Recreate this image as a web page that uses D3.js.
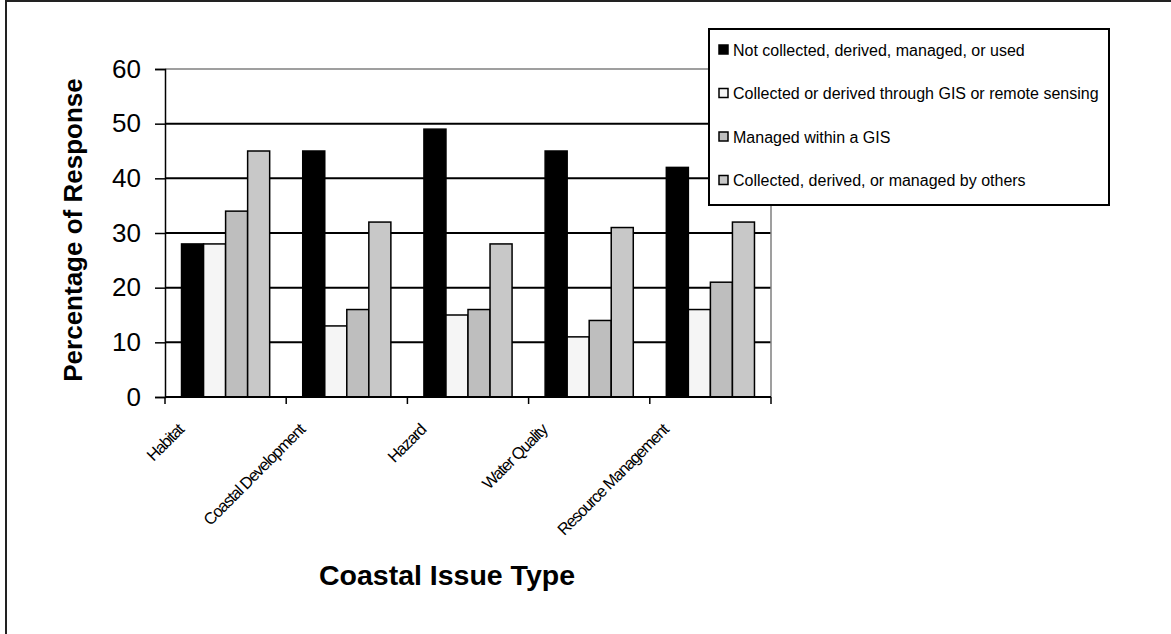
<!DOCTYPE html>
<html>
<head>
<meta charset="utf-8">
<script src="https://cdn.jsdelivr.net/npm/d3@7"></script>
<style>
  html, body { margin: 0; padding: 0; background: #fff; }
  svg { display: block; font-family: Arial, "Liberation Sans", sans-serif; }
</style>
</head>
<body>
<svg id="chart" width="1171" height="634"></svg>
<script>
// Survey results: share of respondents per coastal issue and data-handling status
const categories = ["Habitat", "Coastal Development", "Hazard", "Water Quality", "Resource Management"];
const seriesNames = [
  "Not collected, derived, managed, or used",
  "Collected or derived through GIS or remote sensing",
  "Managed within a GIS",
  "Collected, derived, or managed by others"
];
const notCollected   = [28, 45, 49, 45, 42];
const collectedGIS   = [28, 13, 15, 11, 16];
const managedGIS     = [34, 16, 16, 14, 21];
const byOthers       = [45, 32, 28, 31, 32];
const seriesValues = [notCollected, collectedGIS, managedGIS, byOthers];
const seriesColors = ["#000000", "#f5f5f5", "#bebebe", "#c8c8c8"];
const yTicks = [0, 10, 20, 30, 40, 50, 60];

const svg = d3.select("#chart");
const plot = { left: 165, right: 771, top: 69, bottom: 397 };

// outer frame (top and left edges fall inside the view)
svg.append("path")
  .attr("d", "M6,700V1H1200")
  .attr("fill", "none").attr("stroke", "#222").attr("stroke-width", 2);

const x0 = d3.scaleBand().domain(categories).range([plot.left, plot.right]).paddingInner(0).paddingOuter(0);
const x1 = d3.scaleBand().domain(d3.range(seriesNames.length))
  .range([0, x0.bandwidth()]).paddingInner(0).paddingOuter(0.75);
const y = d3.scaleLinear().domain([0, 60]).range([plot.bottom, plot.top]);

// gridlines
svg.append("g").selectAll("line")
  .data(yTicks.filter(t => t > 0 && t < 60))
  .join("line")
  .attr("x1", plot.left).attr("x2", plot.right)
  .attr("y1", d => y(d)).attr("y2", d => y(d))
  .attr("stroke", "#000").attr("stroke-width", 2);

// plot area border (top and right)
svg.append("path")
  .attr("d", `M${plot.left},${y(60)}H${plot.right}V${plot.bottom}`)
  .attr("fill", "none").attr("stroke", "#808080").attr("stroke-width", 1.5);

// bars
const groups = svg.append("g").selectAll("g")
  .data(categories)
  .join("g")
  .attr("transform", d => `translate(${x0(d)},0)`);

groups.selectAll("rect")
  .data((c, ci) => seriesValues.map((vals, si) => ({ si, v: vals[ci] })))
  .join("rect")
  .attr("x", d => x1(d.si))
  .attr("width", x1.bandwidth())
  .attr("y", d => y(d.v))
  .attr("height", d => y(0) - y(d.v))
  .attr("fill", d => seriesColors[d.si])
  .attr("stroke", "#000").attr("stroke-width", 1.5);

// y axis
const yAxis = svg.append("g")
  .attr("transform", `translate(${plot.left},0)`)
  .call(d3.axisLeft(y).tickValues(yTicks).tickSize(10).tickPadding(14).tickFormat(d3.format("d")));
yAxis.select(".domain").attr("stroke", "#000").attr("stroke-width", 1.5);
yAxis.selectAll(".tick line").attr("stroke", "#000").attr("stroke-width", 1.5);
yAxis.selectAll(".tick text").attr("font-size", 26).attr("fill", "#000")
  .attr("font-family", "Arial, 'Liberation Sans', sans-serif");

// x axis baseline and category boundary ticks
svg.append("line")
  .attr("x1", plot.left).attr("x2", plot.right)
  .attr("y1", y(0)).attr("y2", y(0))
  .attr("stroke", "#000").attr("stroke-width", 2);
const boundaries = categories.map(c => x0(c)).concat([plot.right]);
svg.append("g").selectAll("line")
  .data(boundaries)
  .join("line")
  .attr("x1", d => d).attr("x2", d => d)
  .attr("y1", y(0)).attr("y2", y(0) + 7)
  .attr("stroke", "#000").attr("stroke-width", 1.5);

// rotated category labels (condensed)
svg.append("g").selectAll("text")
  .data(categories)
  .join("text")
  .attr("transform", d => `translate(${x0(d) + x0.bandwidth() / 2 - 41},${plot.bottom + 34}) rotate(-45)`)
  .attr("text-anchor", "end")
  .attr("font-size", 16.5)
  .attr("letter-spacing", -1.2)
  .attr("fill", "#000")
  .text(d => d);

// axis titles
svg.append("text")
  .attr("transform", `translate(82,230) rotate(-90)`)
  .attr("text-anchor", "middle")
  .attr("font-size", 26).attr("font-weight", "bold")
  .text("Percentage of Response");

svg.append("text")
  .attr("x", 447).attr("y", 585)
  .attr("text-anchor", "middle")
  .attr("font-size", 28.5).attr("font-weight", "bold")
  .text("Coastal Issue Type");

// legend
const legend = svg.append("g").attr("transform", "translate(709,29)");
legend.append("rect")
  .attr("width", 400).attr("height", 176)
  .attr("fill", "#fff").attr("stroke", "#000").attr("stroke-width", 2);
const items = legend.selectAll("g.item")
  .data(seriesNames)
  .join("g")
  .attr("class", "item")
  .attr("transform", (d, i) => `translate(10,${21 + i * 43.5})`);
items.append("rect")
  .attr("x", 0).attr("y", -5).attr("width", 9).attr("height", 9)
  .attr("fill", (d, i) => seriesColors[i])
  .attr("stroke", "#000").attr("stroke-width", 1.5);
items.append("text")
  .attr("x", 14).attr("y", 0).attr("dy", "0.35em")
  .attr("font-size", 16).attr("fill", "#000")
  .text(d => d);
</script>
</body>
</html>
